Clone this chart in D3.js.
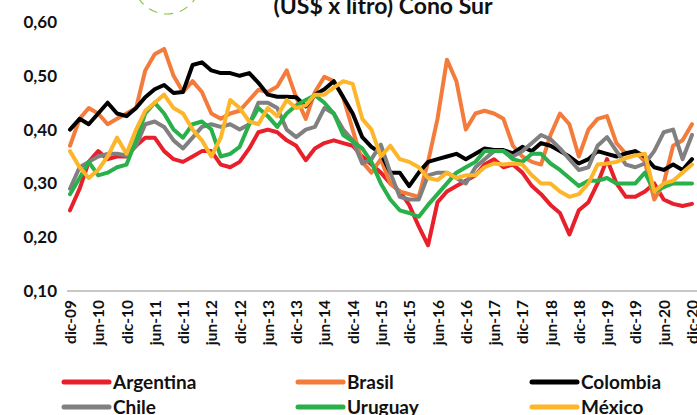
<!DOCTYPE html>
<html>
<head>
<meta charset="utf-8">
<script src="https://cdn.jsdelivr.net/npm/d3@7"></script>
<style>
  body { margin: 0; background: #fff; }
  text { font-family: Lato, "Open Sans", sans-serif; font-weight: bold; }
</style>
</head>
<body>
<script>
// datos cada dos meses, dic-09 a dic-20 (US$ x litro)
const paises = ["Argentina", "Brasil", "Colombia", "Chile", "Uruguay", "México"];
const colores = ["#E8202C", "#F37C3C", "#000000", "#808080", "#28B04A", "#FDB62A"];

const argentina = [0.25, 0.29, 0.34, 0.36, 0.345, 0.35, 0.35, 0.37, 0.385, 0.385, 0.36, 0.345,
  0.34, 0.35, 0.36, 0.36, 0.335, 0.33, 0.34, 0.365, 0.395, 0.40, 0.395, 0.38,
  0.37, 0.343, 0.365, 0.375, 0.38, 0.375, 0.37, 0.35, 0.335, 0.32, 0.30, 0.285,
  0.26, 0.22, 0.185, 0.265, 0.285, 0.295, 0.305, 0.315, 0.335, 0.345, 0.33, 0.335,
  0.32, 0.295, 0.28, 0.26, 0.245, 0.205, 0.25, 0.265, 0.30, 0.345, 0.30, 0.275,
  0.275, 0.285, 0.30, 0.27, 0.262, 0.258, 0.262];

const brasil = [0.37, 0.42, 0.44, 0.43, 0.41, 0.42, 0.43, 0.44, 0.51, 0.54, 0.55, 0.50,
  0.47, 0.49, 0.47, 0.43, 0.42, 0.43, 0.435, 0.455, 0.474, 0.47, 0.48, 0.51,
  0.46, 0.42, 0.47, 0.498, 0.49, 0.46, 0.40, 0.34, 0.32, 0.345, 0.30, 0.285,
  0.28, 0.275, 0.34, 0.42, 0.53, 0.49, 0.40, 0.43, 0.435, 0.43, 0.42, 0.37,
  0.35, 0.34, 0.335, 0.39, 0.43, 0.41, 0.35, 0.40, 0.42, 0.425, 0.375, 0.355,
  0.36, 0.34, 0.27, 0.30, 0.37, 0.38, 0.41];

const colombia = [0.40, 0.42, 0.41, 0.43, 0.45, 0.43, 0.425, 0.44, 0.46, 0.475, 0.483, 0.468,
  0.47, 0.52, 0.525, 0.51, 0.505, 0.505, 0.50, 0.505, 0.487, 0.465, 0.461, 0.461,
  0.46, 0.443, 0.465, 0.475, 0.49, 0.46, 0.43, 0.386, 0.368, 0.356, 0.32, 0.32,
  0.295, 0.32, 0.34, 0.345, 0.35, 0.355, 0.345, 0.355, 0.365, 0.362, 0.362, 0.356,
  0.368, 0.36, 0.375, 0.37, 0.36, 0.35, 0.337, 0.345, 0.36, 0.355, 0.35, 0.356,
  0.36, 0.35, 0.33, 0.325, 0.335, 0.325, 0.345];

const chile = [0.29, 0.33, 0.34, 0.35, 0.355, 0.355, 0.352, 0.37, 0.41, 0.415, 0.405, 0.38,
  0.365, 0.385, 0.405, 0.41, 0.405, 0.41, 0.40, 0.41, 0.45, 0.45, 0.44, 0.40,
  0.386, 0.40, 0.405, 0.44, 0.43, 0.40, 0.38, 0.337, 0.345, 0.372, 0.32, 0.275,
  0.27, 0.27, 0.315, 0.32, 0.32, 0.31, 0.30, 0.33, 0.345, 0.36, 0.36, 0.35,
  0.36, 0.375, 0.39, 0.382, 0.365, 0.345, 0.325, 0.33, 0.37, 0.386, 0.36, 0.335,
  0.33, 0.337, 0.36, 0.395, 0.40, 0.345, 0.39];

const uruguay = [0.28, 0.31, 0.34, 0.315, 0.32, 0.33, 0.335, 0.38, 0.43, 0.45, 0.43, 0.40,
  0.385, 0.41, 0.415, 0.40, 0.35, 0.355, 0.368, 0.41, 0.44, 0.425, 0.405, 0.43,
  0.445, 0.455, 0.464, 0.45, 0.43, 0.39, 0.378, 0.365, 0.34, 0.30, 0.27, 0.25,
  0.245, 0.238, 0.26, 0.28, 0.30, 0.32, 0.33, 0.34, 0.36, 0.36, 0.36, 0.345,
  0.34, 0.355, 0.355, 0.337, 0.325, 0.31, 0.295, 0.305, 0.305, 0.31, 0.30, 0.30,
  0.30, 0.32, 0.285, 0.293, 0.30, 0.30, 0.30];

const mexico = [0.36, 0.33, 0.31, 0.325, 0.35, 0.385, 0.355, 0.40, 0.435, 0.45, 0.465, 0.44,
  0.43, 0.40, 0.38, 0.35, 0.385, 0.455, 0.44, 0.415, 0.41, 0.44, 0.425, 0.455,
  0.44, 0.445, 0.465, 0.465, 0.478, 0.49, 0.485, 0.42, 0.40, 0.35, 0.37, 0.345,
  0.34, 0.33, 0.31, 0.306, 0.32, 0.31, 0.315, 0.315, 0.33, 0.337, 0.335, 0.337,
  0.335, 0.315, 0.30, 0.30, 0.285, 0.275, 0.28, 0.30, 0.335, 0.337, 0.34, 0.347,
  0.352, 0.355, 0.285, 0.30, 0.305, 0.32, 0.335];

const series = [argentina, brasil, colombia, chile, uruguay, mexico];

const yTicks = [0.10, 0.20, 0.30, 0.40, 0.50, 0.60];
const xTickLabels = ["dic-09", "jun-10", "dic-10", "jun-11", "dic-11", "jun-12", "dic-12",
  "jun-13", "dic-13", "jun-14", "dic-14", "jun-15", "dic-15", "jun-16", "dic-16",
  "jun-17", "dic-17", "jun-18", "dic-18", "jun-19", "dic-19", "jun-20", "dic-20"];

const inicio = new Date(2009, 11, 1);
const fechas = argentina.map((d, i) => d3.timeMonth.offset(inicio, 2 * i));
const tickFechas = xTickLabels.map((d, i) => d3.timeMonth.offset(inicio, 6 * i));

const width = 697, height = 415;

const svg = d3.select("body").append("svg")
    .attr("width", width)
    .attr("height", height);

const x = d3.scaleTime()
    .domain([inicio, new Date(2020, 11, 1)])
    .range([70, 692]);

const y = d3.scaleLinear()
    .domain([0.10, 0.60])
    .range([291, 22]);

// arco verde punteado (resto de una forma en la imagen original)
svg.append("ellipse")
    .attr("cx", 167).attr("cy", -21)
    .attr("rx", 34).attr("ry", 35)
    .attr("fill", "none")
    .attr("stroke", "#8CC63F")
    .attr("stroke-width", 1.2)
    .attr("stroke-dasharray", "9,7");

// titulo (la primera linea queda fuera de la imagen)
svg.append("text")
    .attr("x", 383).attr("y", 14)
    .attr("text-anchor", "middle")
    .style("font-size", "23px")
    .attr("fill", "#111")
    .text("(US$ x litro) Cono Sur");

// eje Y
svg.append("g")
    .attr("transform", "translate(58,0)")
    .call(d3.axisLeft(y).tickValues(yTicks).tickSize(0).tickPadding(1)
        .tickFormat(d => d.toFixed(2).replace(".", ",")))
    .call(g => g.select(".domain").remove())
    .selectAll("text")
    .style("font-size", "17px")
    .style("font-family", "Lato, sans-serif")
    .attr("fill", "#111");

// linea base
svg.append("line")
    .attr("x1", 67).attr("x2", 697)
    .attr("y1", y(0.10)).attr("y2", y(0.10))
    .attr("stroke", "#C8C8C8")
    .attr("stroke-width", 2);

// eje X
svg.append("g")
    .attr("transform", `translate(0,${y(0.10)})`)
    .call(d3.axisBottom(x).tickValues(tickFechas).tickSize(0)
        .tickFormat((d, i) => xTickLabels[i]))
    .call(g => g.select(".domain").remove())
    .selectAll("text")
    .attr("transform", "rotate(-90)")
    .attr("text-anchor", "end")
    .attr("x", -9)
    .attr("y", 0)
    .attr("dy", "0.36em")
    .style("font-size", "15.5px")
    .style("font-family", "Lato, sans-serif")
    .attr("fill", "#111");

// lineas
const line = d3.line()
    .x((d, i) => x(fechas[i]))
    .y(d => y(d));

svg.selectAll(".serie")
    .data(series)
    .enter()
    .append("path")
    .attr("class", "serie")
    .attr("d", d => line(d))
    .attr("fill", "none")
    .attr("stroke", (d, i) => colores[i])
    .attr("stroke-width", 4)
    .attr("stroke-linejoin", "round")
    .attr("stroke-linecap", "round");

// leyenda
const legCols = [62, 296, 530];
const legRows = [382, 407];

const leg = svg.selectAll(".leg")
    .data(paises)
    .enter()
    .append("g")
    .attr("class", "leg")
    .attr("transform", (d, i) => `translate(${legCols[i % 3]},${legRows[Math.floor(i / 3)]})`);

leg.append("line")
    .attr("x1", 2).attr("x2", 47)
    .attr("y1", 0).attr("y2", 0)
    .attr("stroke", (d, i) => colores[i])
    .attr("stroke-width", 5)
    .attr("stroke-linecap", "round");

leg.append("text")
    .attr("x", 51)
    .attr("y", 0)
    .attr("dy", "0.36em")
    .style("font-size", "19px")
    .attr("fill", "#111")
    .text(d => d);
</script>
</body>
</html>
